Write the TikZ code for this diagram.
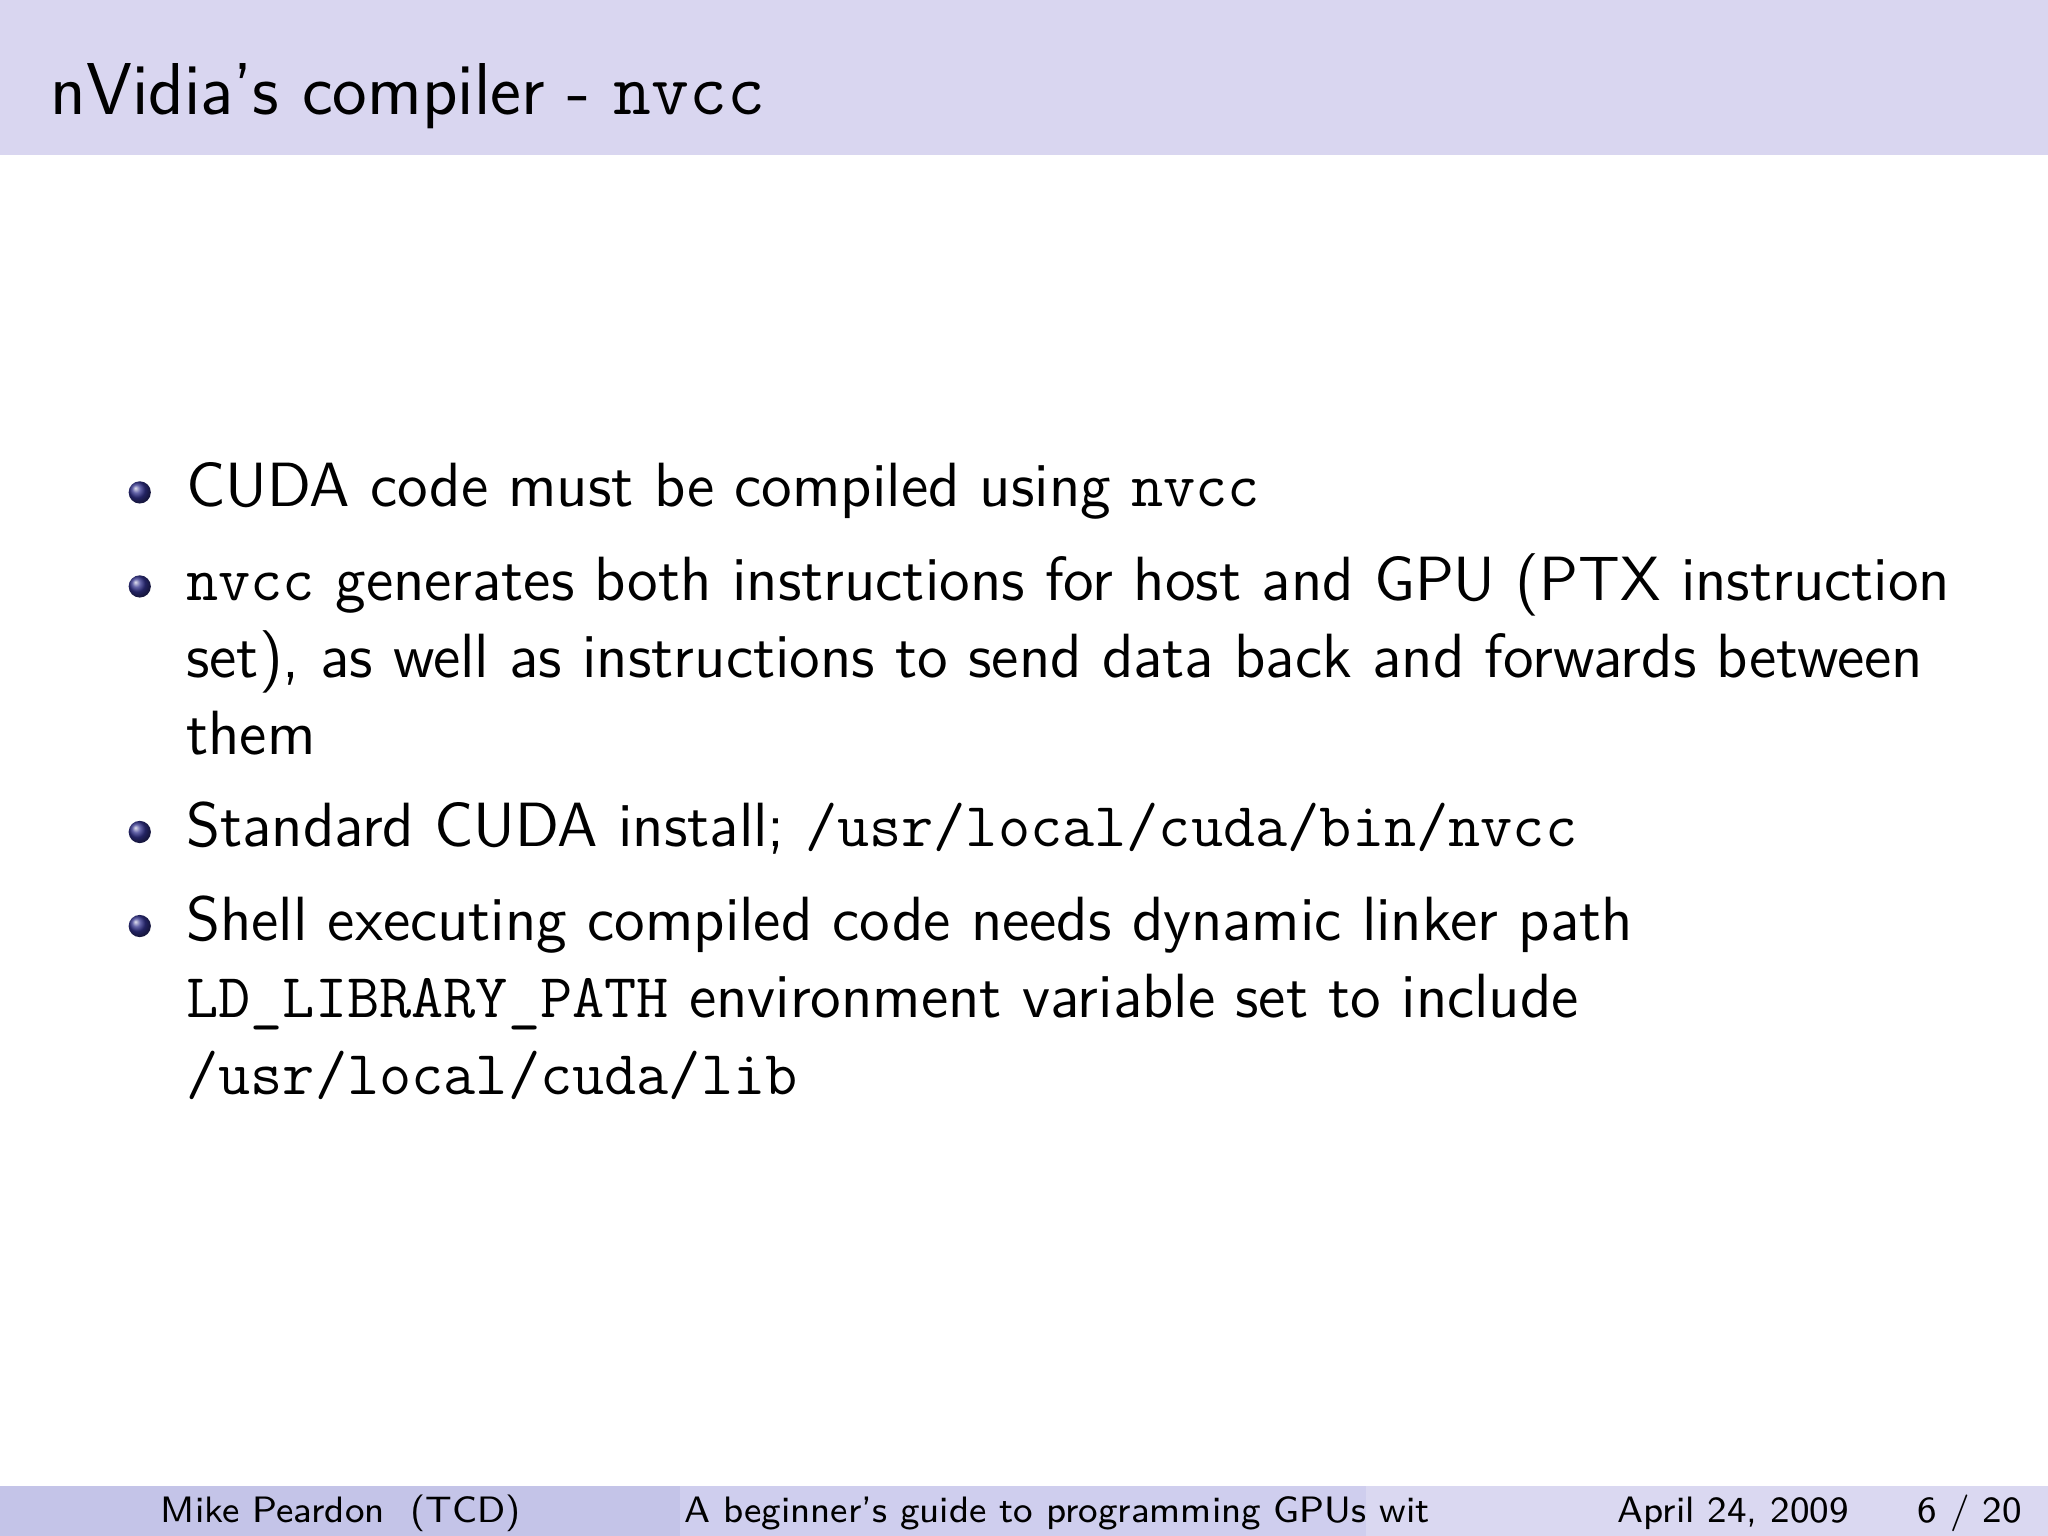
\documentclass[tikz,border=0pt]{standalone}
\usepackage{fontspec}
\definecolor{titlebg}{RGB}{217,214,240}
\definecolor{footA}{RGB}{196,196,232}
\definecolor{footB}{RGB}{207,206,238}
\definecolor{footC}{RGB}{218,216,241}
\definecolor{ballc}{RGB}{50,50,140}
\begin{document}
\begin{tikzpicture}[x=0.01cm,y=-0.01cm,
  ln/.style={anchor=base west,inner sep=0pt,font=\sffamily\fontsize{13.6}{16}\selectfont},
  ft/.style={anchor=base,inner sep=0pt,font=\sffamily\fontsize{8}{9}\selectfont},
  bul/.style={circle,inner sep=0pt,minimum size=0.17cm,ball color=ballc}]
\useasboundingbox (0,0) rectangle (1568,1176);
\fill[white] (0,0) rectangle (1568,1176);
\fill[titlebg] (0,0) rectangle (1568,119);
\node[anchor=base west,inner sep=0pt,font=\sffamily\fontsize{16}{19}\selectfont] (title) at (38,88) {nVidia's compiler - \texttt{nvcc}};
\node[bul] (b1) at (107,377) {};
\node[ln] (l1) at (142,388) {CUDA code must be compiled using \texttt{nvcc}};
\node[bul] (b2) at (107,449) {};
\node[ln] (l2) at (142,460) {\texttt{nvcc} generates both instructions for host and GPU (PTX instruction};
\node[ln] (l2b) at (142,519) {set), as well as instructions to send data back and forwards between};
\node[ln] (l2c) at (142,578) {them};
\node[bul] (b3) at (107,637) {};
\node[ln] (l3) at (142,648) {Standard CUDA install; \texttt{/usr/local/cuda/bin/nvcc}};
\node[bul] (b4) at (107,709) {};
\node[ln] (l4) at (142,720) {Shell executing compiled code needs dynamic linker path};
\node[ln] (l4b) at (142,779) {\texttt{LD\_LIBRARY\_PATH} environment variable set to include};
\node[ln] (l4c) at (142,838) {\texttt{/usr/local/cuda/lib}};
\fill[footA] (0,1138) rectangle (521,1176);
\fill[footB] (521,1138) rectangle (1046,1176);
\fill[footC] (1046,1138) rectangle (1568,1176);
\node[ft] (fa) at (261,1166) {Mike Peardon\ \ (TCD)};
\node[ft,anchor=base west] (fb) at (523,1166) {A beginner's guide to programming GPUs wit};
\node[ft] (fc) at (1327,1166) {April 24, 2009};
\node[ft] (fd) at (1508,1166) {6 / 20};
\end{tikzpicture}
\end{document}
